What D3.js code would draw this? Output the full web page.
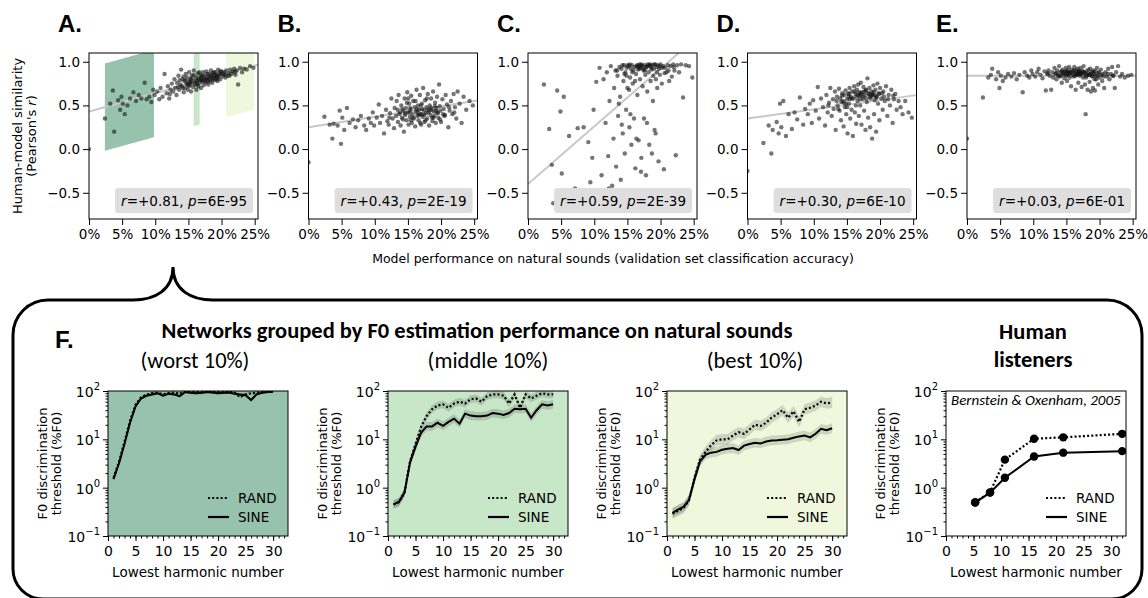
<!DOCTYPE html>
<html>
<head>
<meta charset="utf-8">
<script src="https://cdn.jsdelivr.net/npm/d3@7"></script>
<style>
body { margin: 0; background: #fff; }
.axis path, .axis line { stroke: #000; }
</style>
</head>
<body>
<div id="chart"></div>
<script>
// ---- top row: human-model similarity vs model accuracy (%) ----
// one entry per network, same networks in every panel
const perf = [
  0.0, 2.4, 3.2, 3.6, 3.8, 4.4, 4.7, 4.9, 5.1, 5.4, 5.8, 6.2,
  6.7, 7.1, 7.5, 7.9, 8.4, 8.7, 9.1, 9.4, 9.7, 9.9, 10.3, 10.6,
  10.8, 11.1, 11.4, 11.7, 11.9, 12.1, 12.3, 12.5, 12.7, 12.9, 13.0, 13.2,
  13.3, 13.5, 13.6, 13.8, 13.9, 14.0, 14.1, 14.3, 14.4, 14.5, 14.6, 14.7,
  14.8, 14.9, 15.0, 15.1, 15.2, 15.3, 15.4, 15.5, 15.6, 15.7, 15.8, 15.9,
  16.0, 16.1, 16.2, 16.3, 16.4, 16.5, 16.6, 16.7, 16.8, 16.9, 17.0, 17.1,
  17.2, 17.3, 17.4, 17.5, 17.6, 17.7, 17.8, 17.9, 18.0, 18.1, 18.2, 18.3,
  18.4, 18.5, 18.6, 18.7, 18.8, 18.9, 19.0, 19.1, 19.2, 19.3, 19.4, 19.5,
  19.6, 19.7, 19.8, 19.9, 20.0, 20.2, 20.4, 20.5, 20.7, 20.9, 21.1, 21.3,
  21.5, 21.7, 21.9, 22.1, 22.3, 22.5, 22.8, 23.1, 23.4, 23.8, 24.3, 24.8,
  13.45, 14.25, 14.85, 15.35, 15.75, 16.15, 16.45, 16.85, 17.15, 17.45, 17.85, 18.25,
  18.65, 19.05, 19.45, 19.85, 15.05, 16.65, 17.65, 18.45, 14.55, 20.3, 21.2, 22.0,
  12.2, 13.7, 15.45, 16.35, 17.05, 17.95, 18.85, 19.25, 16.95, 15.25, 14.15, 20.6
];
const simA = [
  0.00, 0.35, 0.52, 0.67, 0.20, 0.56, 0.45, 0.60, 0.52, 0.40, 0.50, 0.58,
  0.65, 0.55, 0.62, 0.58, 0.76, 0.57, 0.60, 0.54, 0.68, 0.62, 0.66, 0.57,
  0.70, 0.60, 0.86, 0.64, 0.72, 0.58, 0.68, 0.75, 0.66, 0.80, 0.70, 0.62,
  0.76, 0.84, 0.68, 0.74, 0.91, 0.72, 0.80, 0.65, 0.78, 0.70, 0.86, 0.75,
  0.82, 0.68, 0.77, 0.88, 0.73, 0.80, 0.66, 0.84, 0.76, 0.71, 0.90, 0.79,
  0.74, 0.83, 0.68, 0.78, 0.87, 0.72, 0.80, 0.76, 0.85, 0.70, 0.82, 0.77,
  0.88, 0.73, 0.80, 0.84, 0.76, 0.89, 0.79, 0.82, 0.74, 0.86, 0.80, 0.78,
  0.90, 0.83, 0.76, 0.87, 0.81, 0.84, 0.79, 0.88, 0.82, 0.85, 0.78, 0.91,
  0.84, 0.87, 0.80, 0.86, 0.89, 0.83, 0.88, 0.85, 0.90, 0.84, 0.87, 0.91,
  0.86, 0.89, 0.92, 0.85, 0.90, 0.74, 0.93, 0.88, 0.92, 0.91, 0.95, 0.93,
  0.71, 0.83, 0.74, 0.78, 0.85, 0.76, 0.81, 0.79, 0.84, 0.78, 0.86, 0.83,
  0.80, 0.85, 0.82, 0.89, 0.72, 0.88, 0.81, 0.85, 0.79, 0.86, 0.84, 0.88,
  0.63, 0.79, 0.81, 0.74, 0.79, 0.77, 0.88, 0.80, 0.83, 0.76, 0.70, 0.82
];
const simB = [
  -0.15, 0.37, 0.28, 0.12, 0.29, 0.27, 0.44, 0.06, 0.36, 0.22, 0.47, 0.30,
  0.34, 0.25, 0.33, 0.38, 0.27, 0.22, 0.35, 0.30, 0.42, 0.27, 0.36, 0.51,
  0.30, 0.38, 0.18, 0.45, 0.32, 0.28, 0.41, 0.58, 0.35, 0.24, 0.47, 0.38,
  0.55, 0.31, 0.62, 0.42, 0.27, 0.50, 0.36, 0.44, 0.20, 0.58, 0.39, 0.47,
  0.33, 0.65, 0.42, 0.28, 0.52, 0.37, 0.45, 0.61, 0.30, 0.40, 0.55, 0.35,
  0.48, 0.26, 0.43, 0.68, 0.38, 0.50, 0.33, 0.45, 0.62, 0.40, 0.28, 0.52,
  0.37, 0.70, 0.44, 0.31, 0.56, 0.41, 0.48, 0.35, 0.63, 0.42, 0.27, 0.50,
  0.39, 0.58, 0.45, 0.32, 0.66, 0.43, 0.38, 0.53, 0.30, 0.47, 0.60, 0.41,
  0.36, 0.74, 0.49, 0.44, 0.31, 0.57, 0.46, 0.38, 0.62, 0.51, 0.25, 0.44,
  0.55, 0.40, 0.63, 0.48, 0.35, 0.66, 0.52, 0.30, 0.60, 0.45, 0.55, 0.50,
  0.45, 0.34, 0.53, 0.47, 0.36, 0.55, 0.42, 0.30, 0.46, 0.39, 0.58, 0.44,
  0.36, 0.49, 0.42, 0.34, 0.58, 0.39, 0.33, 0.47, 0.41, 0.40, 0.48, 0.42,
  0.36, 0.40, 0.33, 0.46, 0.40, 0.45, 0.36, 0.44, 0.50, 0.42, 0.46, 0.39
];
const simC = [
  -0.90, 0.74, 0.23, -0.18, -0.62, 0.67, -0.64, 0.43, -0.28, 0.60, -0.52, 0.15,
  -0.66, -0.45, 0.24, -0.60, 0.25, -0.70, 0.08, -0.38, -0.10, 0.45, 0.77, -0.52,
  0.93, -0.30, 0.80, 0.30, 0.88, -0.08, 0.55, 0.95, -0.42, 0.12, 0.70, 0.90,
  -0.20, 0.84, 0.38, 0.94, 0.60, -0.35, 0.92, 0.18, 0.78, 0.96, -0.05, 0.88,
  0.45, 0.93, 0.70, -0.48, 0.95, 0.25, 0.82, 0.92, 0.05, 0.96, 0.75, 0.90,
  0.35, 0.94, -0.22, 0.86, 0.95, 0.62, 0.91, 0.10, 0.97, 0.80, 0.93, -0.10,
  0.95, 0.72, 0.92, 0.35, 0.96, 0.85, -0.30, 0.94, 0.66, 0.97, 0.88, 0.05,
  0.95, 0.78, 0.93, -0.05, 0.96, 0.84, 0.92, 0.22, 0.97, 0.80, 0.94, 0.70,
  0.96, -0.14, 0.92, 0.85, 0.97, 0.75, 0.95, -0.23, 0.93, 0.88, 0.96, 0.78,
  0.95, 0.83, 0.97, 0.90, -0.07, 0.96, 0.88, 0.97, 0.59, 0.96, 0.95, 0.82,
  0.90, 0.96, 0.84, 0.97, 0.88, 0.78, 0.96, 0.92, 0.97, 0.90, 0.94, 0.96,
  0.91, 0.97, 0.88, 0.95, 0.96, 0.94, 0.90, 0.97, 0.86, 0.93, 0.90, 0.94,
  -0.45, 0.52, 0.40, 0.12, -0.26, 0.30, 0.55, 0.18, 0.96, 0.68, 0.28, 0.87
];
const simD = [
  -0.25, 0.07, 0.27, -0.05, 0.22, 0.31, 0.18, 0.52, 0.25, 0.55, 0.15, 0.40,
  0.23, 0.42, 0.34, 0.59, 0.28, 0.46, 0.40, 0.52, 0.30, 0.56, 0.44, 0.71,
  0.35, 0.58, 0.48, 0.27, 0.62, 0.42, 0.53, 0.70, 0.38, 0.57, 0.46, 0.66,
  0.22, 0.60, 0.50, 0.69, 0.44, 0.58, 0.33, 0.64, 0.55, 0.26, 0.62, 0.48,
  0.67, 0.40, 0.57, 0.18, 0.63, 0.52, 0.70, 0.35, 0.60, 0.45, 0.66, 0.15,
  0.58, 0.72, 0.42, 0.63, 0.29, 0.68, 0.55, 0.74, 0.38, 0.61, 0.50, 0.76,
  0.28, 0.65, 0.57, 0.71, 0.44, 0.62, 0.22, 0.68, 0.54, 0.81, 0.36, 0.63,
  0.70, 0.25, 0.58, 0.66, 0.12, 0.62, 0.73, 0.40, 0.56, 0.68, 0.20, 0.60,
  0.75, 0.52, 0.64, 0.33, 0.70, 0.58, 0.45, 0.66, 0.55, 0.72, 0.38, 0.62,
  0.50, 0.68, 0.30, 0.57, 0.63, 0.45, 0.55, 0.48, 0.40, 0.55, 0.42, 0.36,
  0.55, 0.61, 0.52, 0.64, 0.58, 0.66, 0.60, 0.65, 0.62, 0.60, 0.67, 0.64,
  0.61, 0.65, 0.59, 0.63, 0.48, 0.62, 0.66, 0.60, 0.53, 0.64, 0.57, 0.61,
  0.50, 0.46, 0.57, 0.50, 0.64, 0.58, 0.63, 0.61, 0.57, 0.60, 0.54, 0.60
];
const simE = [
  0.12, 0.59, 0.82, 0.85, 0.92, 0.80, 0.88, 0.70, 0.84, 0.78, 0.82, 0.86,
  0.83, 0.87, 0.80, 0.85, 0.65, 0.88, 0.84, 0.82, 0.90, 0.86, 0.83, 0.88,
  0.92, 0.85, 0.81, 0.89, 0.67, 0.86, 0.90, 0.84, 0.68, 0.88, 0.82, 0.93,
  0.86, 0.80, 0.90, 0.84, 0.95, 0.83, 0.88, 0.76, 0.91, 0.85, 0.87, 0.81,
  0.89, 0.93, 0.84, 0.78, 0.90, 0.86, 0.94, 0.82, 0.88, 0.72, 0.91, 0.85,
  0.89, 0.83, 0.94, 0.87, 0.68, 0.90, 0.85, 0.92, 0.76, 0.88, 0.84, 0.93,
  0.86, 0.71, 0.90, 0.82, 0.95, 0.87, 0.74, 0.40, 0.89, 0.84, 0.68, 0.91,
  0.85, 0.77, 0.92, 0.66, 0.88, 0.83, 0.70, 0.90, 0.86, 0.67, 0.89, 0.80,
  0.93, 0.84, 0.74, 0.88, 0.82, 0.91, 0.78, 0.86, 0.70, 0.88, 0.83, 0.92,
  0.80, 0.86, 0.94, 0.84, 0.70, 0.88, 0.95, 0.83, 0.86, 0.82, 0.84, 0.85,
  0.87, 0.89, 0.86, 0.88, 0.87, 0.90, 0.86, 0.89, 0.87, 0.88, 0.85, 0.87,
  0.86, 0.88, 0.84, 0.87, 0.89, 0.86, 0.88, 0.85, 0.88, 0.85, 0.86, 0.84,
  0.87, 0.85, 0.87, 0.84, 0.86, 0.82, 0.84, 0.80, 0.89, 0.85, 0.84, 0.83
];
const panelLetters = ["A.", "B.", "C.", "D.", "E."];
// regression line: intercept and slope (per % accuracy)
const fitIntercept = [0.43, 0.25, -0.40, 0.35, 0.84];
const fitSlope = [0.021, 0.012, 0.066, 0.0105, 0.0];
const rText = ["+0.81", "+0.43", "+0.59", "+0.30", "+0.03"];
const pText = ["6E-95", "2E-19", "2E-39", "6E-10", "6E-01"];
const pctTicks = [0, 5, 10, 15, 20, 25];
const simTicks = [-0.5, 0.0, 0.5, 1.0];
// selection bands drawn on panel A (accuracy %), worst / middle / best
const bandFrom = [2.4, 15.8, 20.7];
const bandTo = [9.8, 16.7, 24.9];
const groupColors = ["#97c3ae", "#c8e6c8", "#f0f7dd"];

// ---- bottom row: F0 discrimination thresholds (%F0) ----
const harmonics = [1,2,3,4,5,6,7,8,9,10,11,12,13,14,15,16,17,18,19,20,21,22,23,24,25,26,27,28,29,30];
const worstRand = [1.6, 3.4, 9, 24, 52, 74, 84, 90, 92, 85, 90, 92, 88, 97, 95, 96, 94, 97, 95, 96, 94, 95, 92, 75, 85, 90, 92, 95, 97, 98];
const worstSine = [1.5, 3.2, 8, 22, 48, 70, 80, 85, 90, 80, 88, 85, 78, 95, 92, 90, 92, 95, 93, 90, 92, 93, 88, 85, 82, 65, 85, 92, 95, 97];
const midRand = [0.45, 0.5, 0.8, 3.5, 8, 18, 30, 42, 50, 53, 45, 55, 60, 55, 68, 70, 60, 78, 85, 85, 80, 55, 85, 45, 85, 70, 80, 90, 85, 85];
const midSine = [0.45, 0.51, 0.79, 3.3, 7, 13.6, 18.5, 18.5, 22, 19, 23, 26.8, 21, 34, 31, 30, 30, 31, 35, 34, 32, 35, 43, 42, 43, 28, 40, 53, 50, 53];
const bestRand = [0.29, 0.33, 0.38, 0.55, 1.6, 3.8, 5.5, 7.5, 9.5, 10, 10, 12, 14, 13, 16, 20, 19, 22, 28, 33, 40, 28, 38, 23, 42, 45, 50, 60, 55, 58];
const bestSine = [0.30, 0.35, 0.40, 0.56, 1.5, 3.5, 4.8, 5.3, 5.5, 6.1, 6.4, 6.6, 6.0, 7.4, 8.0, 8.5, 8.2, 9.0, 9.5, 9.6, 9.8, 10, 10.8, 11.5, 12, 11, 13, 16.5, 15.5, 17];
// half-width of the shaded band, in log10 units
const spreadRand = [0.03, 0.08, 0.11];
const spreadSine = [0.03, 0.09, 0.10];
const humanHarm = [5.3, 8, 10.7, 16, 21.3, 32];
const humanRand = [0.50, 0.80, 3.8, 10.3, 11, 13];
const humanSine = [0.49, 0.79, 1.6, 4.4, 5.3, 5.7];
const groupTitles = ["(worst 10%)", "(middle 10%)", "(best 10%)"];
const harmTicks = [0, 5, 10, 15, 20, 25, 30];
const threshTicks = [0.1, 1, 10, 100];
const threshExp = ["\u22121", "0", "1", "2"];

const svg = d3.select("#chart").append("svg")
  .attr("width", 1148)
  .attr("height", 598)
  .attr("font-family", "DejaVu Sans, sans-serif");

class simScatter {
  constructor(svg, idx, sims) {
    this.svg = svg;
    this.idx = idx;
    this.sims = sims;
    this.initVis();
  }

  initVis() {
    let vis = this;
    vis.left = 89 + vis.idx * 219.5;
    vis.top = 53;
    vis.width = 169;
    vis.height = 166;

    vis.g = vis.svg.append("g")
      .attr("transform", "translate(" + vis.left + "," + vis.top + ")");

    vis.x = d3.scaleLinear().domain([0, 25.5]).range([0, vis.width]);
    vis.y = d3.scaleLinear().domain([-0.8, 1.1]).range([vis.height, 0]);

    vis.g.append("clipPath")
      .attr("id", "clipTop" + vis.idx)
      .append("rect")
      .attr("width", vis.width)
      .attr("height", vis.height);

    vis.plot = vis.g.append("g").attr("clip-path", "url(#clipTop" + vis.idx + ")");

    let fit = v => fitIntercept[vis.idx] + fitSlope[vis.idx] * v;

    // group bands only on the first panel
    if (vis.idx === 0) {
      bandFrom.forEach((b, i) => {
        let pts = [
          [b, fit(b) - 0.5], [bandTo[i], fit(bandTo[i]) - 0.5],
          [bandTo[i], fit(bandTo[i]) + 0.5], [b, fit(b) + 0.5]
        ];
        vis.plot.append("path")
          .attr("d", d3.line().x(d => vis.x(d[0])).y(d => vis.y(d[1]))(pts) + "Z")
          .attr("fill", groupColors[i]);
      });
    }

    vis.plot.append("path")
      .attr("d", d3.line().x(d => vis.x(d)).y(d => vis.y(fit(d)))([0, 25.5]))
      .attr("stroke", "#c8c8c8")
      .attr("stroke-width", 2)
      .attr("fill", "none");

    vis.plot.selectAll("circle")
      .data(perf)
      .enter().append("circle")
      .attr("cx", d => vis.x(d))
      .attr("cy", (d, i) => vis.y(vis.sims[i]))
      .attr("r", 2.2)
      .attr("fill", "#111")
      .attr("fill-opacity", 0.58);

    vis.xAxis = d3.axisBottom(vis.x).tickValues(pctTicks)
      .tickFormat(d => d + "%").tickSize(6).tickPadding(4);
    vis.yAxis = d3.axisLeft(vis.y).tickValues(simTicks)
      .tickFormat(d3.format(".1f")).tickSize(6).tickPadding(3);

    vis.g.append("g").attr("class", "axis")
      .attr("transform", "translate(0," + vis.height + ")")
      .call(vis.xAxis)
      .call(g => g.select(".domain").remove())
      .selectAll("text").attr("font-size", 13.5).attr("font-family", "DejaVu Sans");
    vis.g.append("g").attr("class", "axis")
      .call(vis.yAxis)
      .call(g => g.select(".domain").remove())
      .selectAll("text").attr("font-size", 13.5).attr("font-family", "DejaVu Sans");

    vis.g.append("rect")
      .attr("width", vis.width).attr("height", vis.height)
      .attr("fill", "none").attr("stroke", "#000").attr("stroke-width", 1);

    // r / p annotation
    let ann = vis.g.append("g");
    let txt = ann.append("text")
      .attr("x", vis.width - 11)
      .attr("y", vis.height - 13)
      .attr("text-anchor", "end")
      .attr("font-size", 13.5);
    txt.append("tspan").attr("font-style", "italic").text("r");
    txt.append("tspan").text("=" + rText[vis.idx] + ", ");
    txt.append("tspan").attr("font-style", "italic").text("p");
    txt.append("tspan").text("=" + pText[vis.idx]);
    let bb = txt.node().getBBox();
    ann.insert("rect", "text")
      .attr("x", bb.x - 6).attr("y", vis.height - 31)
      .attr("width", bb.width + 12).attr("height", 25)
      .attr("rx", 3)
      .attr("fill", "#dedede");

    vis.svg.append("text")
      .attr("x", vis.left - 31)
      .attr("y", 32)
      .attr("font-family", "Liberation Sans, Arial, sans-serif")
      .attr("font-weight", "bold")
      .attr("font-size", 24)
      .text(panelLetters[vis.idx]);
  }
}

class threshPanel {
  constructor(svg, idx, left, series) {
    this.svg = svg;
    this.idx = idx;
    this.left = left;
    this.series = series;
    this.initVis();
  }

  initVis() {
    let vis = this;
    vis.top = 391;
    vis.width = 180;
    vis.height = 145;

    vis.g = vis.svg.append("g")
      .attr("transform", "translate(" + vis.left + "," + vis.top + ")");

    vis.x = d3.scaleLinear().domain([0, 32.7]).range([0, vis.width]);
    vis.y = d3.scaleLog().domain([0.1, 100]).range([vis.height, 0]);

    vis.g.append("rect")
      .attr("width", vis.width).attr("height", vis.height)
      .attr("fill", vis.series.bg);

    vis.g.append("clipPath")
      .attr("id", "clipBot" + vis.idx)
      .append("rect")
      .attr("width", vis.width)
      .attr("height", vis.height);
    vis.plot = vis.g.append("g").attr("clip-path", "url(#clipBot" + vis.idx + ")");

    let s = vis.series;
    if (s.spreadR !== undefined) {
      [[s.rand, s.spreadR], [s.sine, s.spreadS]].forEach(pair => {
        let f = Math.pow(10, pair[1]);
        vis.plot.append("path")
          .attr("d", d3.area()
            .x((d, i) => vis.x(s.h[i]))
            .y0(d => vis.y(d / f))
            .y1(d => vis.y(Math.min(d * f, 100)))(pair[0]))
          .attr("fill", "#000")
          .attr("fill-opacity", 0.14);
      });
    }

    let line = d3.line().x((d, i) => vis.x(s.h[i])).y(d => vis.y(d));
    vis.plot.append("path")
      .attr("d", line(s.rand))
      .attr("fill", "none").attr("stroke", "#000")
      .attr("stroke-width", 2.2).attr("stroke-dasharray", "2,2.2");
    vis.plot.append("path")
      .attr("d", line(s.sine))
      .attr("fill", "none").attr("stroke", "#000")
      .attr("stroke-width", 2);

    if (s.markers) {
      [s.rand, s.sine].forEach(arr => {
        vis.plot.selectAll(null).data(arr).enter().append("circle")
          .attr("cx", (d, i) => vis.x(s.h[i]))
          .attr("cy", d => vis.y(d))
          .attr("r", 4.2)
          .attr("fill", "#000");
      });
      vis.g.append("text")
        .attr("x", 5).attr("y", 14)
        .attr("font-family", "Carlito, Lato, sans-serif")
        .attr("font-style", "italic")
        .attr("font-size", 15)
        .text("Bernstein & Oxenham,  2005");
    }

    // axes: major + minor ticks
    let minorY = [];
    [0.1, 1, 10].forEach(dec => { for (let k = 2; k <= 9; k++) minorY.push(dec * k); });
    let minorX = d3.range(0, 33);

    vis.g.append("g").attr("class", "axis")
      .call(d3.axisLeft(vis.y).tickValues(minorY).tickSize(2.5).tickFormat(""))
      .call(g => g.select(".domain").remove());
    vis.g.append("g").attr("class", "axis")
      .call(d3.axisLeft(vis.y).tickValues(threshTicks).tickSize(5).tickFormat(""))
      .call(g => g.select(".domain").remove());
    vis.g.append("g").attr("class", "axis")
      .attr("transform", "translate(0," + vis.height + ")")
      .call(d3.axisBottom(vis.x).tickValues(minorX).tickSize(2.5).tickFormat(""))
      .call(g => g.select(".domain").remove());
    vis.g.append("g").attr("class", "axis")
      .attr("transform", "translate(0," + vis.height + ")")
      .call(d3.axisBottom(vis.x).tickValues(harmTicks).tickSize(5).tickPadding(5))
      .call(g => g.select(".domain").remove())
      .selectAll("text").attr("font-size", 14).attr("font-family", "DejaVu Sans");

    threshTicks.forEach((t, i) => {
      let lab = vis.g.append("text")
        .attr("x", -8)
        .attr("y", vis.y(t) + 6)
        .attr("text-anchor", "end")
        .attr("font-size", 14);
      lab.append("tspan").text("10");
      lab.append("tspan").attr("dy", -7).attr("font-size", 10).text(threshExp[i]);
    });

    vis.g.append("rect")
      .attr("width", vis.width).attr("height", vis.height)
      .attr("fill", "none").attr("stroke", "#000").attr("stroke-width", 1);

    // legend
    [["RAND", "2,2.2", 107], ["SINE", null, 126]].forEach(l => {
      vis.g.append("line")
        .attr("x1", 100).attr("x2", 121)
        .attr("y1", l[2]).attr("y2", l[2])
        .attr("stroke", "#000").attr("stroke-width", 2.2)
        .attr("stroke-dasharray", l[1]);
      vis.g.append("text")
        .attr("x", 130).attr("y", l[2] + 5)
        .attr("font-size", 13.5)
        .text(l[0]);
    });

    vis.g.append("text")
      .attr("x", vis.width / 2).attr("y", 186)
      .attr("text-anchor", "middle")
      .attr("font-size", 13.5)
      .text("Lowest harmonic number");
    vis.g.append("text")
      .attr("transform", "translate(-61," + (vis.height / 2) + ") rotate(-90)")
      .attr("text-anchor", "middle")
      .attr("font-size", 13)
      .text("F0 discrimination");
    vis.g.append("text")
      .attr("transform", "translate(-47," + (vis.height / 2) + ") rotate(-90)")
      .attr("text-anchor", "middle")
      .attr("font-size", 13)
      .text("threshold (%F0)");
  }
}

[simA, simB, simC, simD, simE].forEach((s, i) => new simScatter(svg, i, s));

svg.append("text")
  .attr("transform", "translate(22,136) rotate(-90)")
  .attr("text-anchor", "middle").attr("font-size", 13)
  .text("Human-model similarity");
let pear = svg.append("text")
  .attr("transform", "translate(36,136) rotate(-90)")
  .attr("text-anchor", "middle").attr("font-size", 13);
pear.append("tspan").text("(Pearson's ");
pear.append("tspan").attr("font-style", "italic").text("r");
pear.append("tspan").text(")");

svg.append("text")
  .attr("x", 613).attr("y", 263)
  .attr("text-anchor", "middle").attr("font-size", 12.5)
  .text("Model performance on natural sounds (validation set classification accuracy)");

// bracket box around panel F with brace pointing at panel A
svg.append("path")
  .attr("d", "M48,300 L133,300 C155,300 173,290 173,267 C173,290 191,300 213,300 " +
    "L1107,300 A35,35 0 0 1 1142,335 L1142,569 A30,30 0 0 1 1112,599 L43,599 " +
    "A30,30 0 0 1 13,569 L13,335 A35,35 0 0 1 48,300 Z")
  .attr("fill", "none")
  .attr("stroke", "#000")
  .attr("stroke-width", 3);

const bottomLefts = [108, 388, 667, 946];
const bottomSeries = [
  {h: harmonics, rand: worstRand, sine: worstSine, spreadR: spreadRand[0], spreadS: spreadSine[0], bg: groupColors[0]},
  {h: harmonics, rand: midRand, sine: midSine, spreadR: spreadRand[1], spreadS: spreadSine[1], bg: groupColors[1]},
  {h: harmonics, rand: bestRand, sine: bestSine, spreadR: spreadRand[2], spreadS: spreadSine[2], bg: groupColors[2]},
  {h: humanHarm, rand: humanRand, sine: humanSine, markers: true, bg: "#fff"}
];
bottomSeries.forEach((s, i) => new threshPanel(svg, i, bottomLefts[i], s));

svg.append("text")
  .attr("x", 55).attr("y", 348)
  .attr("font-family", "Liberation Sans, Arial, sans-serif")
  .attr("font-weight", "bold").attr("font-size", 24)
  .text("F.");

const titleFont = "Carlito, Lato, sans-serif";
svg.append("text")
  .attr("x", 477).attr("y", 338)
  .attr("text-anchor", "middle")
  .attr("font-family", titleFont).attr("font-weight", "bold").attr("font-size", 22.5)
  .text("Networks grouped by F0 estimation performance on natural sounds");
[195, 488, 755].forEach((cx, i) => {
  svg.append("text")
    .attr("x", cx).attr("y", 368)
    .attr("text-anchor", "middle")
    .attr("font-family", titleFont).attr("font-size", 22.5)
    .text(groupTitles[i]);
});
svg.append("text")
  .attr("x", 1033).attr("y", 339)
  .attr("text-anchor", "middle")
  .attr("font-family", titleFont).attr("font-weight", "bold").attr("font-size", 22.5)
  .text("Human");
svg.append("text")
  .attr("x", 1033).attr("y", 367)
  .attr("text-anchor", "middle")
  .attr("font-family", titleFont).attr("font-weight", "bold").attr("font-size", 22.5)
  .text("listeners");
</script>
</body>
</html>
